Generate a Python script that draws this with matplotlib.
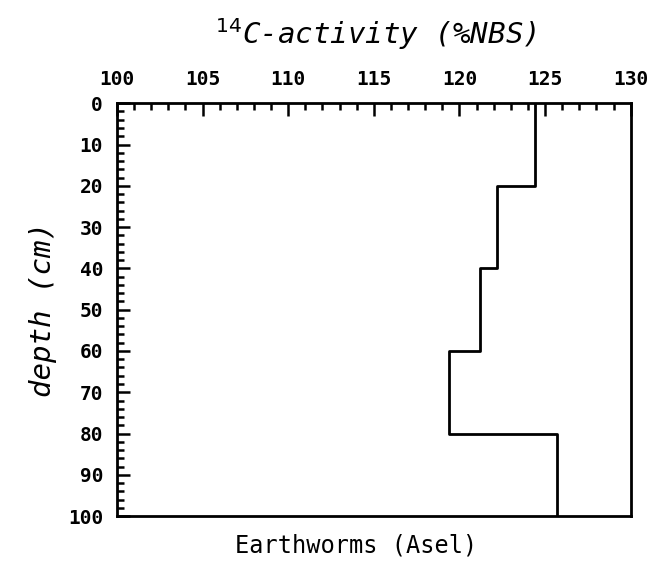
import matplotlib.pyplot as plt
import numpy as np

# depth intervals (cm) and 14C activity (%NBS)
depth_top = [0, 20, 40, 60, 80]
depth_bottom = [20, 40, 60, 80, 100]
activity = [124.4, 122.2, 121.2, 119.4, 125.7]

plt.rcParams["font.family"] = "DejaVu Sans Mono"

fig = plt.figure(figsize=(6.57, 5.61), dpi=100)
ax = fig.add_axes([0.178, 0.080, 0.782, 0.736])

# build step profile
xs, ys = [], []
for top, bot, val in zip(depth_top, depth_bottom, activity):
    xs += [val, val]
    ys += [top, bot]
ax.plot(xs, ys, color="black", lw=2)

ax.set_xlim(100, 130)
ax.set_ylim(100, 0)
ax.xaxis.tick_top()
ax.set_xticks(np.arange(100, 131, 5))
ax.set_xticks(np.arange(100, 131, 1), minor=True)
ax.set_yticks(np.arange(0, 101, 10))
ax.set_yticks(np.arange(0, 101, 2), minor=True)
ax.tick_params(which="both", direction="in", top=True, bottom=False,
               right=False, left=True, labelsize=14, width=1.8)
ax.tick_params(which="major", length=9, pad=10)
ax.tick_params(which="minor", length=5)
for lab in ax.get_xticklabels() + ax.get_yticklabels():
    lab.set_fontweight("bold")
for sp in ax.spines.values():
    sp.set_linewidth(2)

fig.text(0.572, 0.94, r"$^{14}$C-activity (%NBS)", ha="center", va="center",
         fontsize=21, style="italic")
ax.set_ylabel("depth (cm)", fontsize=21, style="italic", labelpad=8)
fig.text(0.542, 0.028, "Earthworms (Asel)", ha="center", va="center", fontsize=17)

fig.savefig("out.png", dpi=100)
